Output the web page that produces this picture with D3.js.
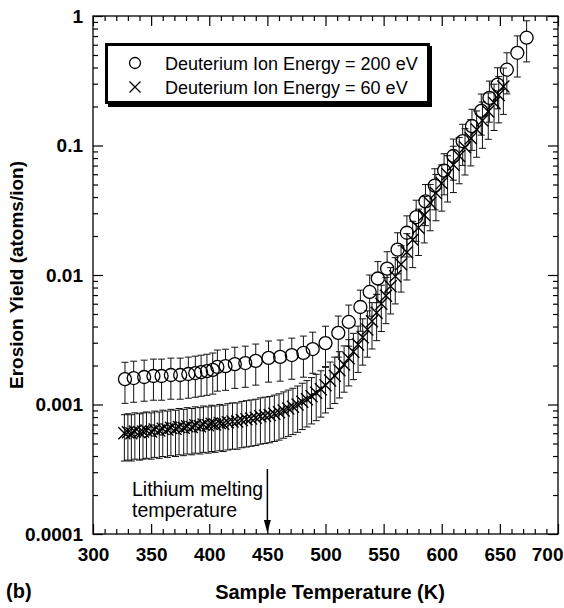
<!DOCTYPE html>
<html>
<head>
<meta charset="utf-8">
<script src="https://cdn.jsdelivr.net/npm/d3@7"></script>
<style>
  body { margin: 0; background: #fff; }
  svg { display: block; font-family: "Liberation Sans", Arial, Helvetica, sans-serif; }
  .tick text { font-weight: bold; font-size: 19px; fill: #000; }
  .tick line { stroke: #000; stroke-width: 1.2; }
</style>
</head>
<body>
<div id="chart"></div>
<script>
// 200 eV series (circles)
var temps200 = [327.5, 335, 344, 352, 359, 367, 375, 382, 388, 393, 398, 403, 407, 414, 422, 431, 440, 451, 461, 471, 481, 489, 500, 511, 520, 530,
  538, 545, 553, 562, 570, 578, 586, 594, 602, 610, 618, 626, 634, 641, 648, 656, 665, 673];
var yield200 = [0.00157, 0.00160, 0.00163, 0.00166, 0.00166, 0.00169, 0.00169, 0.00172, 0.00175, 0.00178, 0.00181, 0.00185, 0.00195, 0.00198, 0.00205, 0.00209, 0.00217, 0.00229, 0.00233, 0.00241, 0.00250, 0.00268, 0.00298, 0.00357, 0.00434, 0.00566,
  0.0074, 0.0094, 0.0112, 0.0157, 0.0212, 0.028, 0.037, 0.049, 0.064, 0.083, 0.108, 0.141, 0.185, 0.233, 0.295, 0.385, 0.52, 0.68];
var relErr200 = 0.35;

// 60 eV series (crosses)
var temps60 = [327, 330, 333, 336, 340, 343, 346, 350, 353, 357, 360, 364, 367, 371, 374, 378, 381, 385, 388, 392, 395, 399, 402, 405, 409, 412, 416, 420, 424, 428,
  432, 436, 440, 444, 448, 452, 456, 460, 464, 468, 472, 476, 480, 484, 488, 492, 496, 500, 504, 508, 512, 516, 520, 524, 528, 532, 536, 540, 544, 548,
  552, 556, 560, 565, 570, 575, 580, 585, 590, 595, 600, 605, 610, 615, 620, 625, 630, 635, 640, 645, 649, 653];
var yield60 = [0.00060, 0.00061, 0.00060, 0.00062, 0.00061, 0.00062, 0.00063, 0.00062, 0.00064, 0.00063, 0.00065, 0.00064, 0.00066, 0.00065, 0.00067, 0.00066, 0.00068, 0.00067, 0.00069, 0.00068, 0.00070, 0.00069, 0.00071, 0.00070, 0.00072, 0.00071, 0.00073, 0.00074, 0.00074, 0.00076,
  0.00077, 0.00078, 0.00079, 0.00081, 0.00082, 0.00083, 0.00085, 0.00087, 0.00090, 0.00093, 0.00096, 0.00100, 0.00105, 0.00110, 0.00116, 0.00123, 0.00131, 0.00141, 0.00153, 0.00167, 0.00184, 0.00204, 0.00228, 0.00255, 0.00290, 0.00330, 0.0038, 0.0044, 0.0051, 0.0060,
  0.0069, 0.0082, 0.0098, 0.0121, 0.0150, 0.0187, 0.0232, 0.029, 0.036, 0.043, 0.051, 0.060, 0.071, 0.083, 0.097, 0.114, 0.133, 0.156, 0.183, 0.214, 0.245, 0.285];
var relErr60 = 0.39;

var xTicks = [300, 350, 400, 450, 500, 550, 600, 650, 700];
var yTicks = [0.0001, 0.001, 0.01, 0.1, 1];
var yTickLabels = ['0.0001', '0.001', '0.01', '0.1', '1'];
var legendLabels = ['Deuterium Ion Energy = 200 eV', 'Deuterium Ion Energy = 60 eV'];
var meltTemp = 450;

var W = 564, H = 608;
var svg = d3.select('#chart').append('svg').attr('width', W).attr('height', H);

var x = d3.scaleLinear().domain([300, 700]).range([93, 558]);
var y = d3.scaleLog().domain([0.0001, 1]).range([534, 16]);
var x0 = x.range()[0], x1 = x.range()[1], yb = y.range()[0], yt = y.range()[1];

// minor ticks
var xMinor = d3.range(310, 700, 10).filter(function (d) { return d % 50 !== 0; });
var yMinor = [];
yTicks.slice(0, -1).forEach(function (d) { for (var k = 2; k <= 9; k++) yMinor.push(d * k); });

function drawAxis(axisFn, scale, pos, major, minor, labels, translate) {
  var g = svg.append('g').attr('transform', translate);
  g.call(axisFn(scale).tickValues(minor).tickSize(-5).tickFormat(''));
  var gm = svg.append('g').attr('transform', translate);
  gm.call(axisFn(scale).tickValues(major).tickSize(-10).tickPadding(pos).tickFormat(labels));
  g.select('.domain').remove();
  gm.select('.domain').remove();
  return gm;
}

var bottom = drawAxis(d3.axisBottom, x, 14, xTicks, xMinor, function (d) { return d; }, 'translate(0,' + yb + ')');
drawAxis(d3.axisTop, x, 0, xTicks, xMinor, '', 'translate(0,' + yt + ')');
drawAxis(d3.axisLeft, y, 10, yTicks, yMinor, function (d, i) { return yTickLabels[yTicks.indexOf(d)]; }, 'translate(' + x0 + ',0)');
drawAxis(d3.axisRight, y, 0, yTicks, yMinor, '', 'translate(' + x1 + ',0)');

// keep the "700" label inside the picture
bottom.selectAll('.tick text').filter(function (d) { return d === 700; })
  .attr('text-anchor', 'end').attr('x', W - 1 - x(700));

svg.append('rect')
  .attr('x', x0).attr('y', yt).attr('width', x1 - x0).attr('height', yb - yt)
  .attr('fill', 'none').attr('stroke', '#000').attr('stroke-width', 1.3);

// data
var d200 = temps200.map(function (t, i) { return { t: t, v: yield200[i], e: yield200[i] * relErr200 }; });
var d60 = temps60.map(function (t, i) { return { t: t, v: yield60[i], e: yield60[i] * relErr60 }; });

var r = 6.5, cap = 3.5, cs = 6;

function errorBars(data, gap) {
  var g = svg.append('g').attr('stroke', '#111').attr('stroke-width', 1);
  data.forEach(function (d) {
    var cx = x(d.t), cy = y(d.v), top = y(d.v + d.e), bot = y(d.v - d.e);
    g.append('line').attr('x1', cx).attr('x2', cx).attr('y1', top).attr('y2', cy - gap);
    g.append('line').attr('x1', cx).attr('x2', cx).attr('y1', cy + gap).attr('y2', bot);
    g.append('line').attr('x1', cx - cap).attr('x2', cx + cap).attr('y1', top).attr('y2', top);
    g.append('line').attr('x1', cx - cap).attr('x2', cx + cap).attr('y1', bot).attr('y2', bot);
  });
}

errorBars(d60, 0);
errorBars(d200, r);

function crossPath(cx, cy, s) {
  return 'M' + (cx - s) + ',' + (cy - s) + 'L' + (cx + s) + ',' + (cy + s) +
    'M' + (cx - s) + ',' + (cy + s) + 'L' + (cx + s) + ',' + (cy - s);
}

svg.append('g').selectAll('path').data(d60).enter().append('path')
  .attr('d', function (d) { return crossPath(x(d.t), y(d.v), cs); })
  .attr('stroke', '#000').attr('stroke-width', 1.4).attr('fill', 'none');

svg.append('g').selectAll('circle').data(d200).enter().append('circle')
  .attr('cx', function (d) { return x(d.t); })
  .attr('cy', function (d) { return y(d.v); })
  .attr('r', r).attr('fill', 'none').attr('stroke', '#000').attr('stroke-width', 1.3);

// legend
var lg = svg.append('g');
lg.append('rect').attr('x', 108).attr('y', 46).attr('width', 324).attr('height', 61).attr('fill', '#000');
lg.append('rect').attr('x', 106.5).attr('y', 44.5).attr('width', 322).attr('height', 58)
  .attr('fill', '#fff').attr('stroke', '#000').attr('stroke-width', 3);
lg.append('circle').attr('cx', 135).attr('cy', 63).attr('r', 5.5)
  .attr('fill', 'none').attr('stroke', '#000').attr('stroke-width', 1.3);
lg.append('path').attr('d', crossPath(135, 87, 5.5)).attr('stroke', '#000').attr('stroke-width', 1.3);
lg.selectAll('text').data(legendLabels).enter().append('text')
  .attr('x', 165).attr('y', function (d, i) { return 69.5 + i * 24; })
  .attr('font-size', 18).text(function (d) { return d; });

// melting annotation
var ann = svg.append('g');
ann.append('text').attr('x', 132).attr('y', 496).attr('font-size', 19.5).text('Lithium melting');
ann.append('text').attr('x', 132).attr('y', 517).attr('font-size', 19.5).text('temperature');
ann.append('line').attr('x1', x(meltTemp)).attr('x2', x(meltTemp)).attr('y1', 469).attr('y2', 524)
  .attr('stroke', '#000').attr('stroke-width', 1.5);
ann.append('path')
  .attr('d', 'M' + (x(meltTemp) - 3.5) + ',' + 520 + 'L' + (x(meltTemp) + 3.5) + ',' + 520 + 'L' + x(meltTemp) + ',' + (yb - 1) + 'Z')
  .attr('fill', '#000');

// titles
svg.append('text').attr('x', 330).attr('y', 599).attr('text-anchor', 'middle')
  .attr('font-size', 20).attr('font-weight', 'bold').text('Sample Temperature (K)');
svg.append('text').attr('x', 6).attr('y', 598)
  .attr('font-size', 20).attr('font-weight', 'bold').text('(b)');
svg.append('text').attr('transform', 'translate(23,275) rotate(-90)').attr('text-anchor', 'middle')
  .attr('font-size', 19).attr('font-weight', 'bold').text('Erosion Yield (atoms/ion)');
</script>
</body>
</html>
